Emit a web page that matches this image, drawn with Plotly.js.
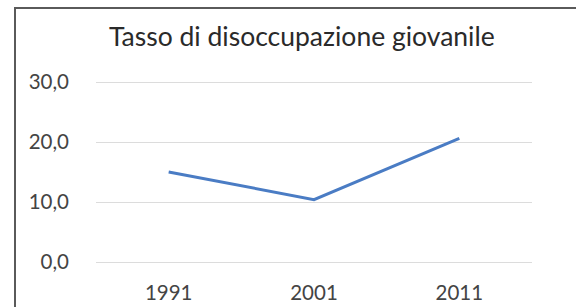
<!DOCTYPE html>
<html>
<head>
<meta charset="utf-8">
<script src="https://cdn.plot.ly/plotly-3.0.1.min.js"></script>
<style>
html,body{margin:0;padding:0;background:#fff;}
#chart{width:576px;height:307px;}
</style>
</head>
<body>
<div id="chart"></div>
<script>
const years = ["1991", "2001", "2011"];
const rate = [15.0, 10.4, 20.6];
const yTickVals = [0, 10, 20, 30];
const yTickText = ["0,0", "10,0", "20,0", "30,0"];
const chartTitle = "Tasso di disoccupazione giovanile";

const FONT = "Lato, 'Open Sans', sans-serif";

const trace = {
  x: years,
  y: rate,
  type: "scatter",
  mode: "lines",
  line: {color: "#4a7cc4", width: 3},
  hoverinfo: "skip"
};

const layout = {
  width: 576,
  height: 307,
  margin: {l: 96, r: 44, t: 80, b: 43},
  paper_bgcolor: "#ffffff",
  plot_bgcolor: "#ffffff",
  showlegend: false,
  title: {
    text: chartTitle,
    font: {family: FONT, size: 26.5, color: "#2a2a2a"},
    xref: "container", x: 0.524, xanchor: "center",
    yref: "container", y: 1 - 37/307, yanchor: "middle"
  },
  xaxis: {
    type: "category",
    range: [-0.5, 2.5],
    showgrid: false,
    zeroline: false,
    showline: false,
    ticks: "",
    ticklabelstandoff: 14,
    tickfont: {family: FONT, size: 20.5, color: "#444444"}
  },
  yaxis: {
    range: [-1/3, 30 + 1/3],
    tickvals: yTickVals,
    ticktext: yTickText,
    showgrid: true,
    gridcolor: "#dcdcdc",
    gridwidth: 1,
    zeroline: false,
    showline: false,
    ticks: "",
    ticklabelstandoff: 26,
    tickfont: {family: FONT, size: 20.5, color: "#444444"}
  },
  shapes: [{
    type: "rect",
    xref: "paper", yref: "paper",
    x0: (15 - 96) / 436, x1: (590 - 96) / 436,
    y0: (264 - 320) / 184, y1: (264 - 8) / 184,
    line: {color: "#5a5a5a", width: 2},
    fillcolor: "rgba(0,0,0,0)",
    layer: "below"
  }]
};

Plotly.newPlot("chart", [trace], layout, {staticPlot: true, displayModeBar: false});
</script>
</body>
</html>
